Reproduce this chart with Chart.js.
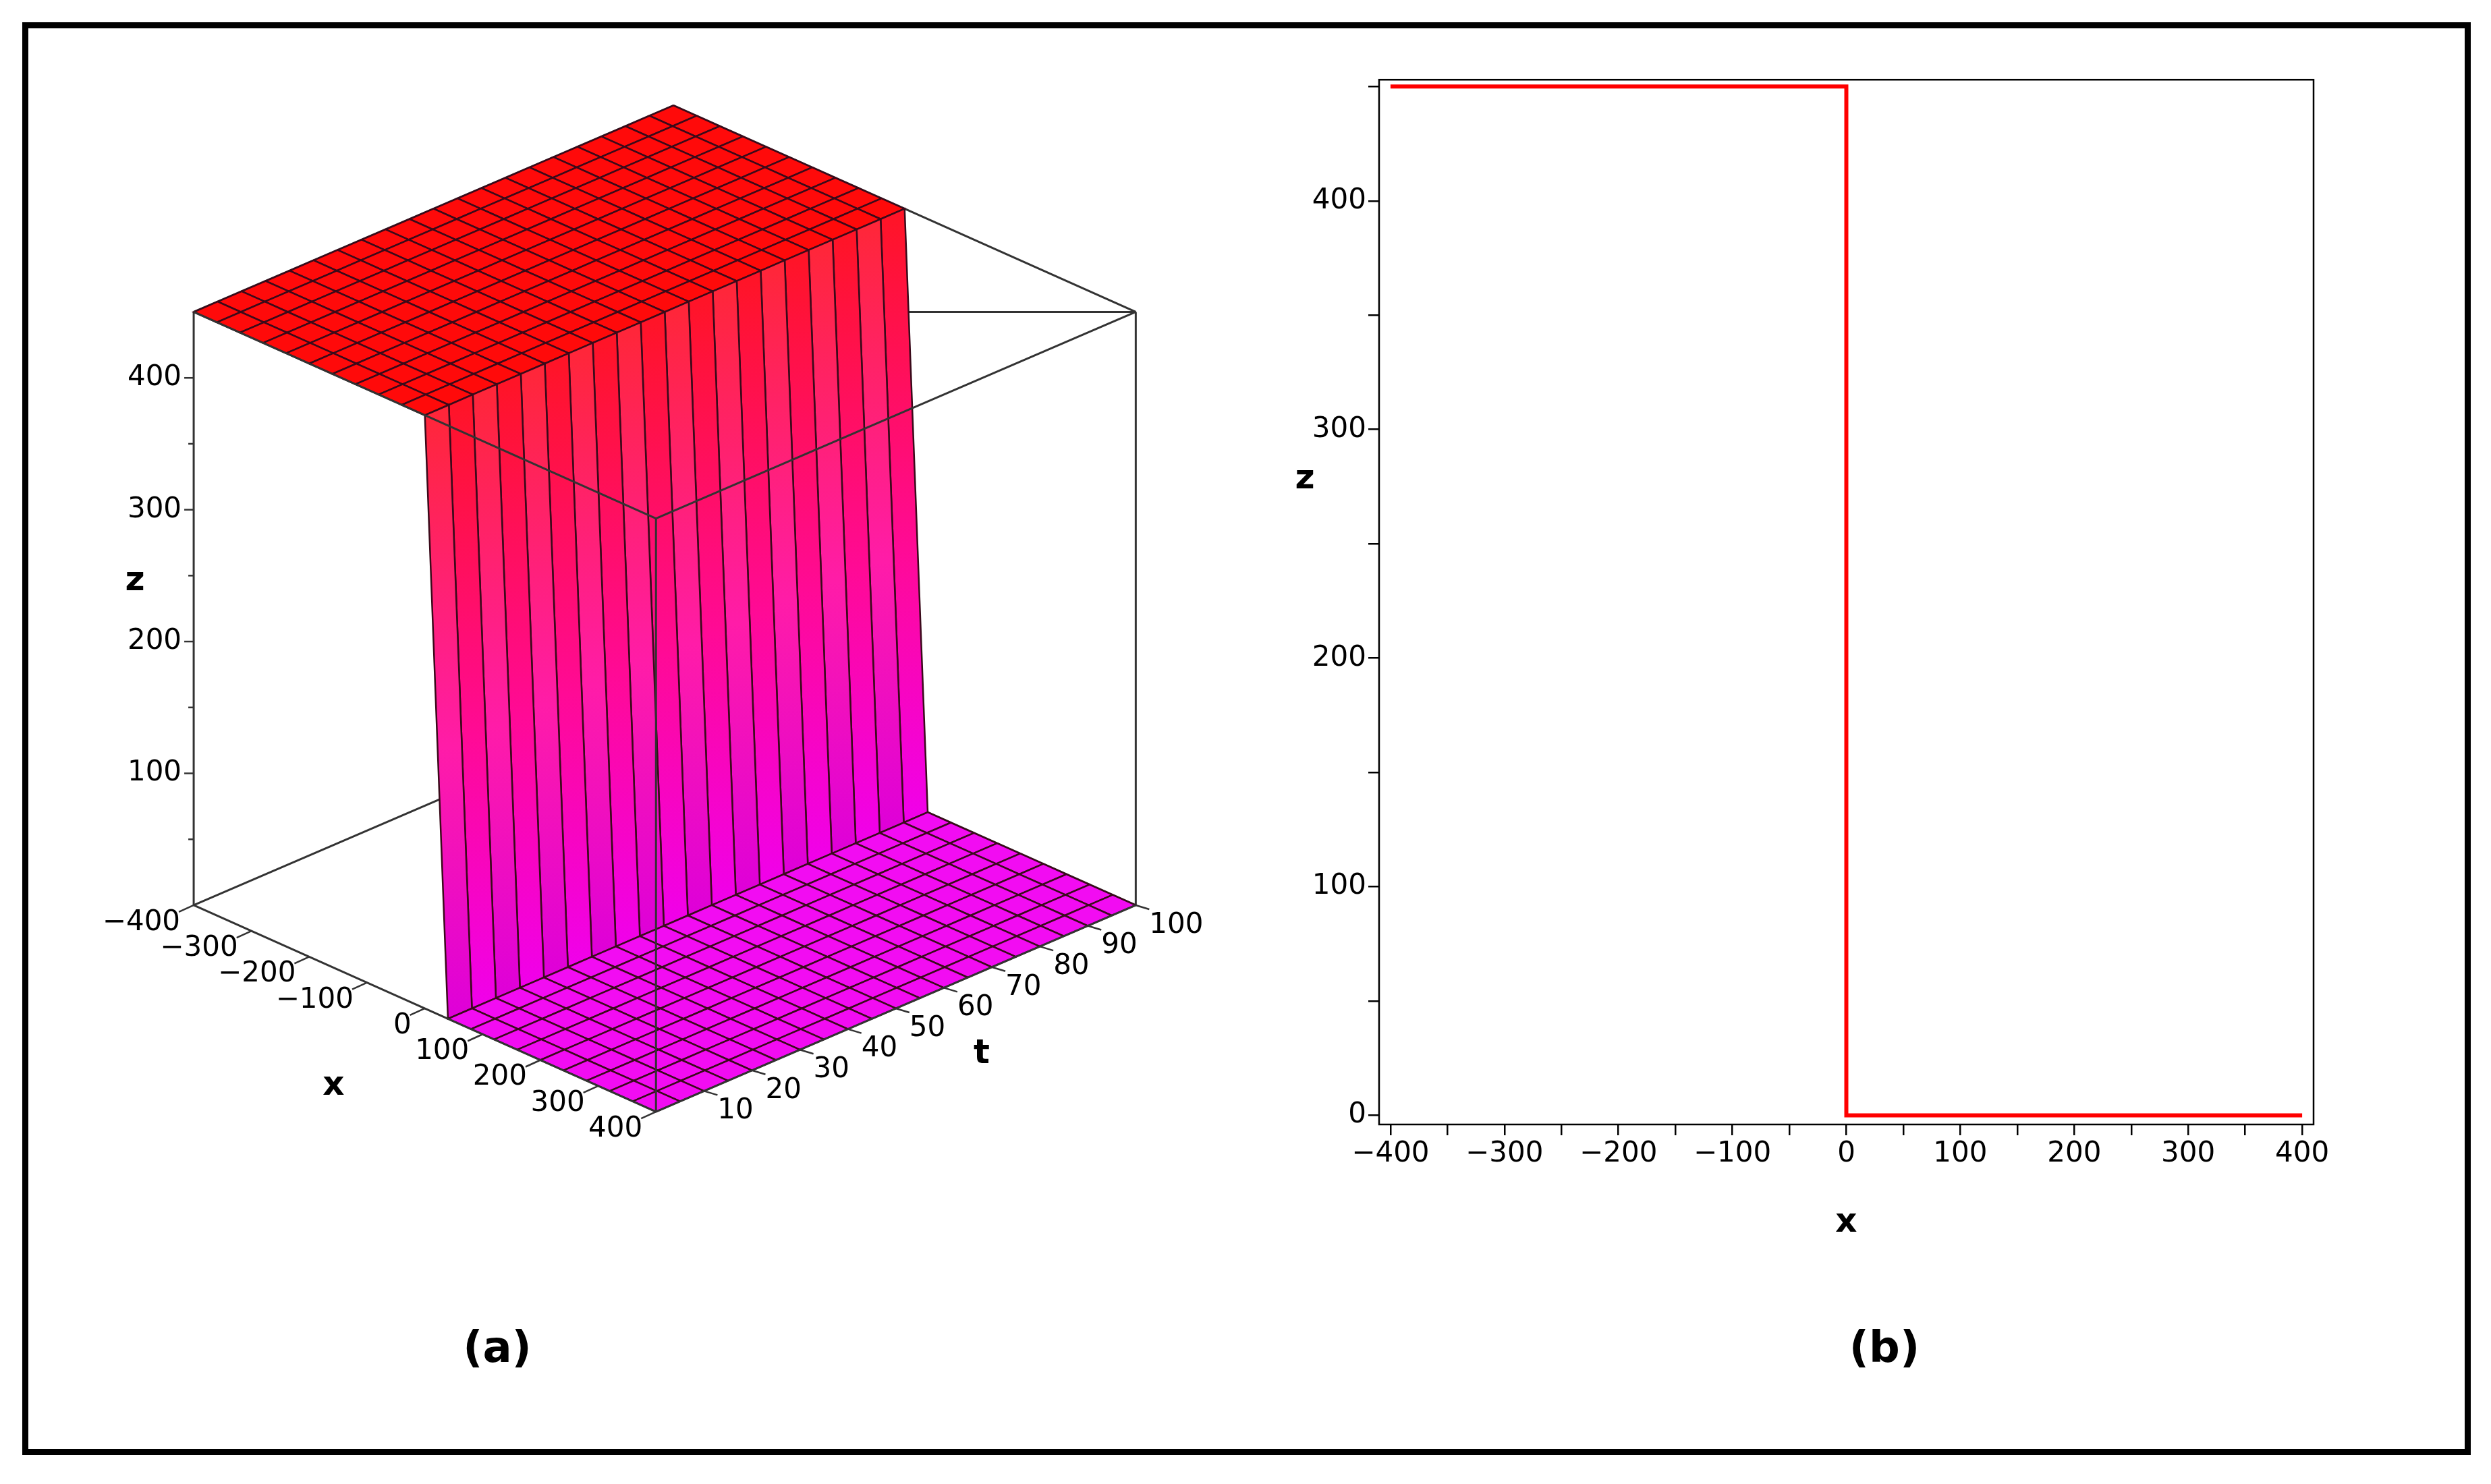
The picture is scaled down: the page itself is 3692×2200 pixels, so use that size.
<!DOCTYPE html>
<html><head><meta charset="utf-8">
<script src="https://cdn.jsdelivr.net/npm/chart.js@4.4.1/dist/chart.umd.min.js"></script>
<style>
body{margin:0;background:#fff;width:3692px;height:2200px;position:relative;overflow:hidden;font-family:"DejaVu Sans",sans-serif}
#frame{position:absolute;left:33px;top:33px;width:3611px;height:2106px;border:9px solid #000}
.cap{position:absolute;top:1960px;font:bold 64px "DejaVu Sans";width:200px;text-align:center}
#ca{position:absolute;left:94px;top:94px}
#cb{position:absolute;left:1880px;top:90px}
</style></head><body>
<div id="frame"></div>
<canvas id="ca"></canvas>
<canvas id="cb"></canvas>
<div class="cap" style="left:637px">(a)</div>
<div class="cap" style="left:2693px">(b)</div>
<script>
// surface z(x,t): plateau for x<=0, zero for x>0 (same for every t)
var xGrid = [-400,-360,-320,-280,-240,-200,-160,-120,-80,-40,0,40,80,120,160,200,240,280,320,360,400];
var zProfile = [450,450,450,450,450,450,450,450,450,450,450,0,0,0,0,0,0,0,0,0,0];
var tGrid = [0,5,10,15,20,25,30,35,40,45,50,55,60,65,70,75,80,85,90,95,100];
var zTicks = [100,200,300,400];
var xTicks3d = [-400,-300,-200,-100,0,100,200,300,400];
var tTicks3d = [10,20,30,40,50,60,70,80,90,100];

// 2D cross-section
var lineX = [-400,0,0,400];
var lineZ = [450,450,0,0];

var FONT = '"DejaVu Sans", sans-serif';
var S = 3692/1568;
function minus(v){ return String(v).replace('-', '\u2212'); }

// ---------- panel (a) ----------
var ca = document.getElementById('ca');
ca.width = 1800; ca.height = 1800;
ca.style.width = '1800px'; ca.style.height = '1800px';
// scales in reference pixel units (0..800 ref px of the original picture offset by 40)
function proj(x,t,z){
  return {x: 122 + (x+400)/800*291 + t/100*302,
          y: 570 + (x+400)/800*130 - t/100*130 - z*0.83};
}
var surfacePlugin = {
  id:'surface',
  afterDraw:function(chart){
    var c = chart.ctx, sx = chart.scales.x, sy = chart.scales.y;
    function P(x,t,z){ var p = proj(x,t,z); return [sx.getPixelForValue(p.x), sy.getPixelForValue(p.y)]; }
    function poly(pts, fill, stroke){
      c.beginPath(); c.moveTo(pts[0][0],pts[0][1]);
      for (var i=1;i<pts.length;i++) c.lineTo(pts[i][0],pts[i][1]);
      c.closePath();
      if (fill){ c.fillStyle = fill; c.fill(); }
      if (stroke){ c.strokeStyle = stroke; c.lineWidth = 2.5; c.stroke(); }
    }
    function seg(a,b,w){ c.beginPath(); c.moveTo(a[0],a[1]); c.lineTo(b[0],b[1]); c.strokeStyle='#333'; c.lineWidth=w||3; c.stroke(); }
    c.save();
    // back box edges
    seg(P(-400,0,0),P(-400,100,0)); seg(P(-400,100,0),P(400,100,0));
    seg(P(-400,100,0),P(-400,100,450)); seg(P(-400,0,0),P(-400,0,450));
    seg(P(-400,0,450),P(-400,100,450)); seg(P(-400,100,450),P(400,100,450));
    seg(P(400,100,0),P(400,100,450)); seg(P(-400,0,450),P(400,100,450));
    // surface quads, far to near
    for (var i=0;i<xGrid.length-1;i++){
      for (var j=tGrid.length-2;j>=0;j--){
        var x0=xGrid[i], x1=xGrid[i+1], t0=tGrid[j], t1=tGrid[j+1];
        var z0=zProfile[i], z1=zProfile[i+1];
        var pts=[P(x0,t0,z0),P(x1,t0,z1),P(x1,t1,z1),P(x0,t1,z0)];
        var fill;
        if (z0===z1){ fill = z0>0 ? '#ff0a0a' : '#f20cf2'; }
        else {
          var g = c.createLinearGradient(0,pts[0][1],0,pts[1][1]);
          var k = j%2 ? 0 : 18;
          g.addColorStop(0,'rgb(255,'+(20+k)+','+(40+k)+')');
          g.addColorStop(0.55,'rgb(255,'+(10+k)+','+(150+k)+')');
          g.addColorStop(1,'rgb('+(240-k)+',0,'+(235-k)+')');
          fill = g;
        }
        poly(pts, fill, '#3a0a1a');
      }
    }
    // front box edges
    seg(P(-400,0,0),P(400,0,0)); seg(P(400,0,0),P(400,100,0));
    seg(P(400,0,0),P(400,0,450)); seg(P(-400,0,450),P(400,0,450)); seg(P(400,0,450),P(400,100,450));
    // ticks and labels
    c.fillStyle='#000'; c.font = '42px '+FONT;
    c.textAlign='right'; c.textBaseline='middle';
    zTicks.forEach(function(z){ var a=P(-400,0,z); seg(a,[a[0]-14,a[1]],2.5); c.fillText(z, a[0]-18, a[1]); });
    [50,150,250,350].forEach(function(z){ var a=P(-400,0,z); seg(a,[a[0]-8,a[1]],2.5); });
    xTicks3d.forEach(function(x){ var a=P(x,0,0); seg(a,[a[0]-22,a[1]+10],2.5); c.textAlign='right'; c.fillText(minus(x), a[0]-20, a[1]+26); });
    c.textAlign='left';
    tTicks3d.forEach(function(t){ var a=P(400,t,0); seg(a,[a[0]+20,a[1]+6],2.5); c.fillText(t, a[0]+20, a[1]+30); });
    c.font = 'bold 50px '+FONT; c.textAlign='center';
    var xl=[sx.getPixelForValue(210), sy.getPixelForValue(684)]; c.fillText('x', xl[0], xl[1]);
    var tl=[sx.getPixelForValue(618), sy.getPixelForValue(664)]; c.fillText('t', tl[0], tl[1]);
    var zl=[sx.getPixelForValue(85), sy.getPixelForValue(366)]; c.fillText('z', zl[0], zl[1]);
    c.restore();
  }
};
new Chart(ca, {
  type:'scatter',
  data:{datasets:[{data:[]}]},
  options:{
    responsive:false, animation:false,
    layout:{padding:0},
    plugins:{legend:{display:false}, tooltip:{enabled:false}},
    scales:{
      x:{type:'linear', min:40, max:40+1800/S, display:false},
      y:{type:'linear', min:40, max:40+1800/S, reverse:true, display:false}
    }
  },
  plugins:[surfacePlugin]
});

// ---------- panel (b) ----------
var cb = document.getElementById('cb');
cb.width = 1689; cb.height = 1757;
cb.style.width = '1689px'; cb.style.height = '1757px';
var boxPlugin = {
  id:'box',
  afterDraw:function(chart){
    var a = chart.chartArea, c = chart.ctx;
    c.save();
    c.strokeStyle='#000'; c.lineWidth=2.5;
    c.strokeRect(a.left, a.top, a.right-a.left, a.bottom-a.top);
    c.fillStyle='#000'; c.font='bold 50px '+FONT; c.textAlign='center'; c.textBaseline='middle';
    c.fillText('z', a.left-110, chart.scales.y.getPixelForValue(300)+ (chart.scales.y.getPixelForValue(200)-chart.scales.y.getPixelForValue(300))*0.5 - 95);
    c.restore();
  }
};
new Chart(cb, {
  type:'line',
  data:{
    datasets:[{
      data: lineX.map(function(x,i){ return {x:x, y:lineZ[i]}; }),
      borderColor:'#ff0000', borderWidth:6, pointRadius:0, fill:false, tension:0
    }]
  },
  options:{
    responsive:false, animation:false,
    layout:{padding:{top:28,right:140,left:0,bottom:0}},
    plugins:{legend:{display:false}, tooltip:{enabled:false}},
    scales:{
      x:{type:'linear', min:-410, max:410,
         afterBuildTicks:function(s){ var t=[]; for(var v=-400;v<=400;v+=50) t.push({value:v}); s.ticks=t; },
         ticks:{autoSkip:false, maxRotation:0, color:'#000', font:{size:42,family:'"DejaVu Sans"'},
                callback:function(v){ return v%100===0 ? minus(v) : ''; }},
         grid:{drawOnChartArea:false, tickLength:16, color:'#000', lineWidth:2.5},
         border:{display:false},
         title:{display:true, text:'x', color:'#000', font:{size:50,weight:'bold',family:'"DejaVu Sans"'}, padding:{top:4}},
         afterFit:function(s){ s.height=180; }},
      y:{type:'linear', min:-4, max:453,
         afterBuildTicks:function(s){ var t=[]; for(var v=0;v<=450;v+=50) t.push({value:v}); s.ticks=t; },
         ticks:{autoSkip:false, color:'#000', font:{size:42,family:'"DejaVu Sans"'},
                callback:function(v){ return v%100===0 ? v : ''; }},
         grid:{drawOnChartArea:false, tickLength:16, color:'#000', lineWidth:2.5},
         border:{display:false},
         afterFit:function(s){ s.width=164; }}
    }
  },
  plugins:[boxPlugin]
});
</script>
</body></html>
